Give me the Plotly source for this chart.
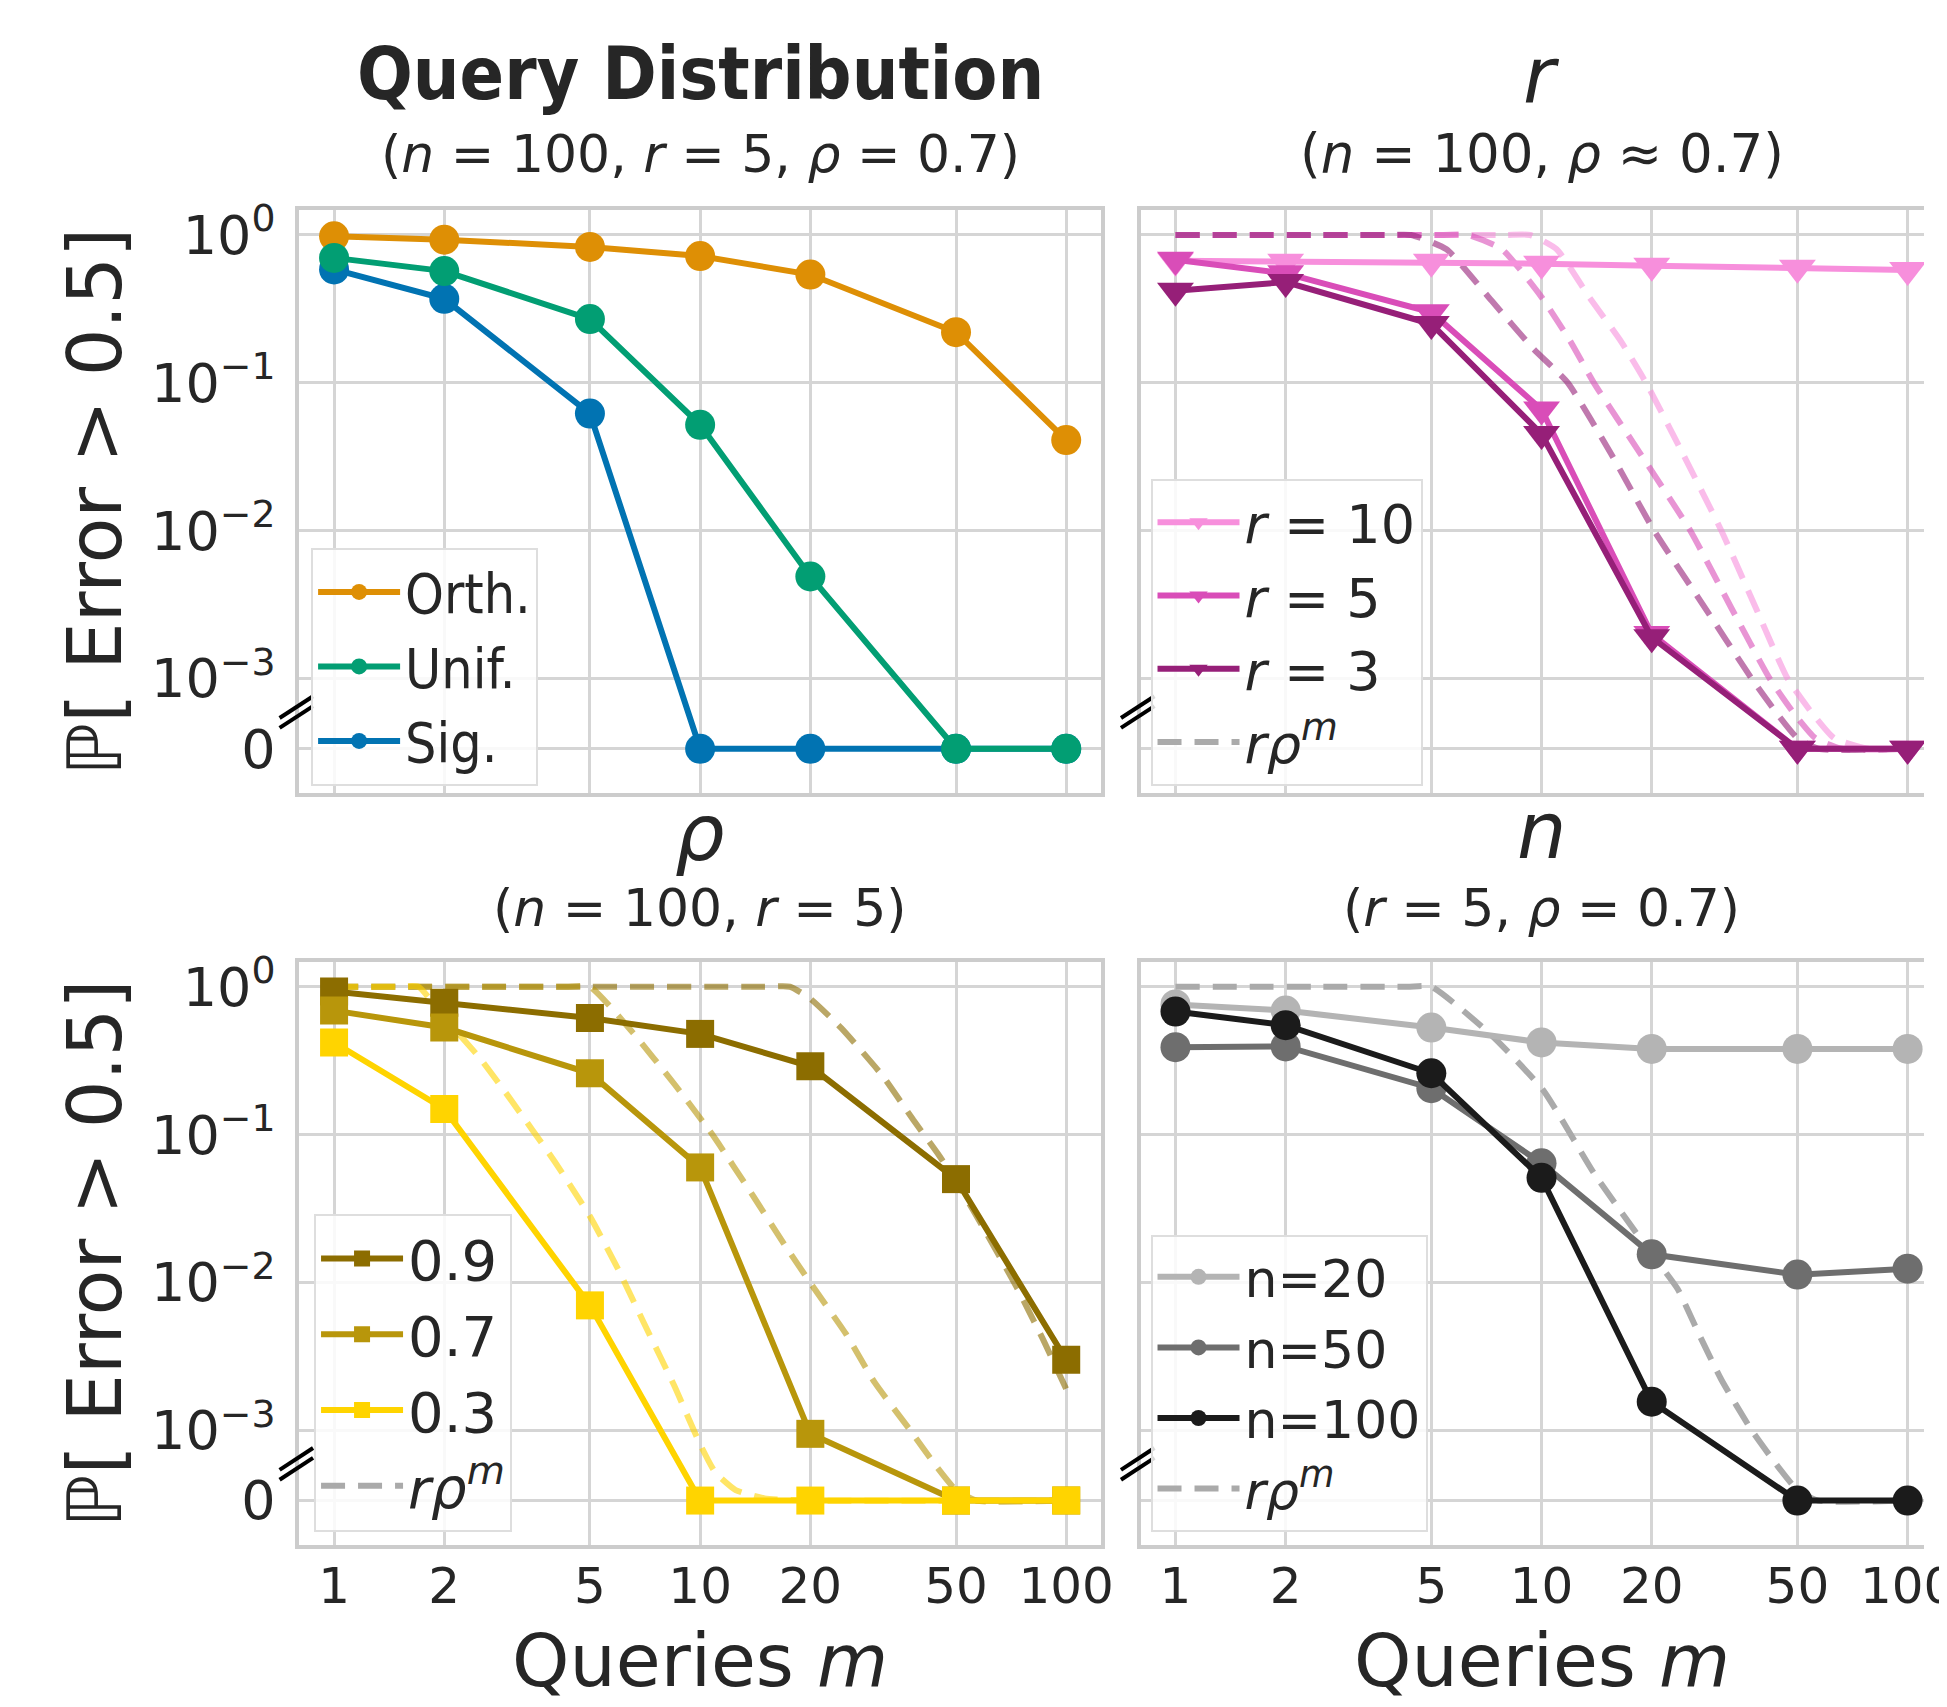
import plotly.graph_objects as go

W, H = 1947, 1707

# ---------------- data ----------------
M = [1, 2, 5, 10, 20, 50, 100]
X_TICKS = [1, 2, 5, 10, 20, 50, 100]
X_TICK_TEXT = ["1", "2", "5", "10", "20", "50", "100"]

# Query distribution panel
ORTH = [0.98, 0.93, 0.83, 0.72, 0.54, 0.22, 0.041]
UNIF = [0.70, 0.57, 0.27, 0.052, 0.0049, 0, 0]
SIG = [0.585, 0.37, 0.062, 0, 0, 0, 0]

# r panel
R10 = [0.67, 0.66, 0.66, 0.64, 0.62, 0.60, 0.58]
R5 = [0.68, 0.55, 0.30, 0.066, 0.0020, 0, 0]
R3 = [0.42, 0.48, 0.25, 0.045, 0.0019, 0, 0]

R3_BOUND_M = [1, 2.5, 3.8, 4.4, 5.5, 7.3, 9.5, 11.8, 15.5, 20.3, 27.5, 37.5, 44, 50, 57, 100]
R3_BOUND = [1, 1, 1, 1, 0.80, 0.36, 0.17, 0.10, 0.033, 0.010, 0.0032, 0.0010, 0.0005, 0.00015, 0, 0]
R5_BOUND_M = [1, 3, 5.4, 6.3, 7.8, 10, 12, 13.9, 18.5, 25.5, 33, 42, 49, 56, 66, 100]
R5_BOUND = [1, 1, 1, 1, 0.80, 0.38, 0.19, 0.10, 0.034, 0.010, 0.0030, 0.0010, 0.0005, 0.00015, 0, 0]
R10_BOUND_M = [1, 4, 8.0, 9.3, 11, 13.5, 16.5, 19.3, 24.5, 31, 38.5, 47, 55, 63, 78, 100]
R10_BOUND = [1, 1, 1, 1, 0.80, 0.38, 0.19, 0.10, 0.032, 0.010, 0.0030, 0.0010, 0.0005, 0.00015, 0, 0]

# rho panel
P09 = [0.93, 0.78, 0.615, 0.48, 0.29, 0.050, 0.0030]
P07 = [0.69, 0.53, 0.26, 0.060, 0.00095, 0, 0]
P03 = [0.42, 0.149, 0.0070, 0, 0, 0, 0]

P09_BOUND_M = [1, 5, 15, 17.6, 20, 24.3, 31.5, 38.2, 45, 51.2, 60.2, 73.2, 86.1, 100]
P09_BOUND = [1, 1, 1, 1, 0.83, 0.525, 0.25, 0.126, 0.072, 0.044, 0.022, 0.0093, 0.0042, 0.0019]
P07_BOUND_M = [1, 2.5, 4.3, 5.0, 6.5, 8.5, 10.8, 14, 17, 20.5, 25, 30, 37.5, 44, 50, 57, 100]
P07_BOUND = [1, 1, 1, 1, 0.50, 0.22, 0.10, 0.038, 0.018, 0.0091, 0.0045, 0.0021, 0.0010, 0.0005, 0.00015, 0, 0]
P03_BOUND_M = [1, 1.5, 1.7, 2, 2.5, 3, 4, 5, 6, 7, 8.5, 10, 11, 12.5, 15, 20, 100]
P03_BOUND = [1, 1, 1, 0.62, 0.33, 0.18, 0.066, 0.028, 0.012, 0.0054, 0.0020, 0.0008, 0.0004, 0.00015, 0.00003, 0, 0]

# n panel
N20 = [0.76, 0.69, 0.53, 0.42, 0.38, 0.38, 0.38]
N50 = [0.39, 0.395, 0.206, 0.064, 0.0155, 0.0113, 0.0124]
N100 = [0.68, 0.55, 0.26, 0.051, 0.00156, 0, 0]

N_BOUND_M = [1, 2.5, 4.3, 5.0, 7.3, 10.1, 13.9, 19.2, 23.5, 27, 31, 37.5, 44, 50, 57, 100]
N_BOUND = [1, 1, 1, 1, 0.47, 0.20, 0.055, 0.0178, 0.0091, 0.0044, 0.0022, 0.0010, 0.0005, 0.00015, 0, 0]

# ---------------- styling ----------------
TXT = "#262626"
GRID = "#d5d5d5"
FRAME = "#cccccc"
FONT = "DejaVu Sans"
COND = "DejaVu Sans Condensed, Liberation Sans Narrow, DejaVu Sans"

ORTH_C, UNIF_C, SIG_C = "#de8f05", "#029e73", "#0173b2"
R10_C, R5_C, R3_C = "#f78fdc", "#d94db8", "#961f78"
P09_C, P07_C, P03_C = "#8c6d00", "#b8960b", "#ffd400"
N20_C, N50_C, N100_C = "#b4b4b4", "#6e6e6e", "#1b1b1b"
BOUND_GRAY = "#aaaaaa"


def rgba(hexc, a):
    h = hexc.lstrip("#")
    r, g, b = int(h[0:2], 16), int(h[2:4], 16), int(h[4:6], 16)
    return f"rgba({r},{g},{b},{a})"


# broken log axis: values below T are placed linearly between T and the "0" line
T = 1e-3
LIN_DEC = 0.475


def sym(vals):
    out = []
    for v in vals:
        if v >= T:
            out.append(v)
        else:
            out.append(T * 10 ** (-LIN_DEC * (1 - v / T)))
    return out


ZERO_POS = sym([0])[0]

# layout geometry (screen pixels)
OFF_X, OFF_Y = 2, 8
PX_DEC = 372.0
LEFT_X0, RIGHT_X0, PANEL_W = 298, 1153, 815
TOP_Y0, TOP_Y1 = 198.0, 785.5
BOT_Y0, BOT_Y1 = 956.0, 1543.5
Y_RANGE = [-3.775, 0.166]
X_MIN = -0.095


def fx(p):
    return (p - OFF_X) / W


def fy(p):
    return 1 - (p - OFF_Y) / H


fig = go.Figure()

LW = 6
DASH = "24px,13px"


def solid(x, y, color, name, symbol, ax, legend, rank, ms):
    fig.add_trace(go.Scatter(
        x=x, y=sym(y), mode="lines+markers", name=name,
        line=dict(color=color, width=LW),
        marker=dict(color=color, size=ms, symbol=symbol, line=dict(width=0)),
        xaxis="x" + ax, yaxis="y" + ax, legend=legend, legendrank=rank,
        showlegend=True))


def bound(x, y, color, ax):
    fig.add_trace(go.Scatter(
        x=x, y=sym(y), mode="lines", showlegend=False,
        line=dict(color=color, width=LW, dash=DASH, shape="spline", smoothing=0.5),
        xaxis="x" + ax, yaxis="y" + ax, hoverinfo="skip"))


def bound_legend(ax, legend):
    fig.add_trace(go.Scatter(
        x=[None], y=[None], mode="lines", name="<i>rρ</i><sup><i>m</i></sup>",
        line=dict(color=BOUND_GRAY, width=LW, dash=DASH),
        xaxis="x" + ax, yaxis="y" + ax, legend=legend, legendrank=10, showlegend=True))


CIRC, SQ, TRI = 30, 28, 32

# panel 1: query distribution
solid(M, ORTH, ORTH_C, "Orth.", "circle", "", "legend", 1, CIRC)
solid(M, SIG, SIG_C, "Sig.", "circle", "", "legend", 3, CIRC)
solid(M, UNIF, UNIF_C, "Unif.", "circle", "", "legend", 2, CIRC)

# panel 2: r
bound(R10_BOUND_M, R10_BOUND, rgba(R10_C, 0.6), "2")
bound(R5_BOUND_M, R5_BOUND, rgba(R5_C, 0.6), "2")
bound(R3_BOUND_M, R3_BOUND, rgba(R3_C, 0.6), "2")
solid(M, R10, R10_C, "<i>r</i> = 10", "triangle-down", "2", "legend2", 1, TRI)
solid(M, R5, R5_C, "<i>r</i> = 5", "triangle-down", "2", "legend2", 2, TRI)
solid(M, R3, R3_C, "<i>r</i> = 3", "triangle-down", "2", "legend2", 3, TRI)
bound_legend("2", "legend2")

# panel 3: rho
bound(P09_BOUND_M, P09_BOUND, rgba(P09_C, 0.6), "3")
bound(P07_BOUND_M, P07_BOUND, rgba(P07_C, 0.6), "3")
bound(P03_BOUND_M, P03_BOUND, rgba(P03_C, 0.6), "3")
solid(M, P09, P09_C, "0.9", "square", "3", "legend3", 1, SQ)
solid(M, P07, P07_C, "0.7", "square", "3", "legend3", 2, SQ)
solid(M, P03, P03_C, "0.3", "square", "3", "legend3", 3, SQ)
bound_legend("3", "legend3")

# panel 4: n
bound(N_BOUND_M, N_BOUND, BOUND_GRAY, "4")
solid(M, N20, N20_C, "n=20", "circle", "4", "legend4", 1, CIRC)
solid(M, N50, N50_C, "n=50", "circle", "4", "legend4", 2, CIRC)
solid(M, N100, N100_C, "n=100", "circle", "4", "legend4", 3, CIRC)
bound_legend("4", "legend4")


def xaxis(x0, y_anchor, labels):
    d0 = fx(x0)
    d1 = min(1.0, fx(x0 + PANEL_W))
    width_px = (d1 - d0) * W
    return dict(
        domain=[d0, d1],
        type="log",
        range=[X_MIN, X_MIN + width_px / PX_DEC],
        tickvals=X_TICKS, ticktext=X_TICK_TEXT,
        showticklabels=labels, ticks="", ticklabelstandoff=-6,
        ticklabeloverflow="allow",
        tickfont=dict(family=FONT, size=50, color=TXT),
        showgrid=True, gridcolor=GRID, gridwidth=2.5,
        showline=True, linecolor=FRAME, linewidth=4, mirror=True,
        zeroline=False, anchor=y_anchor, fixedrange=True)


def yaxis(y0, y1, x_anchor, labels, mirror):
    return dict(
        domain=[fy(y1), fy(y0)],
        type="log", range=Y_RANGE,
        tickvals=[1, 0.1, 0.01, 0.001, ZERO_POS],
        ticktext=["10<sup>0</sup>", "10<sup>−1</sup>", "10<sup>−2</sup>", "10<sup>−3</sup>", "0"],
        showticklabels=labels, ticks="", ticklabelstandoff=9,
        tickfont=dict(family=FONT, size=54, color=TXT),
        showgrid=True, gridcolor=GRID, gridwidth=2.5,
        showline=True, linecolor=FRAME, linewidth=4, mirror=mirror,
        zeroline=False, anchor=x_anchor, fixedrange=True)


def legend(x_px, y_px_bottom, size, family=FONT):
    return dict(
        x=fx(x_px), y=fy(y_px_bottom), xanchor="left", yanchor="bottom",
        bgcolor="rgba(255,255,255,0.85)", bordercolor="#dedede", borderwidth=2,
        font=dict(family=family, size=size, color=TXT),
        traceorder="normal", itemsizing="trace", tracegroupgap=0, itemwidth=82)


annotations = []


def text(x_px, y_px, s, size, family=FONT, angle=0):
    annotations.append(dict(
        x=fx(x_px), y=fy(y_px), xref="paper", yref="paper", text=s,
        showarrow=False, xanchor="center", yanchor="middle", textangle=angle,
        font=dict(family=family, size=size, color=TXT)))


LC = LEFT_X0 + PANEL_W / 2
RC = RIGHT_X0 + PANEL_W / 2

text(LC, 60, "<b>Query Distribution</b>", 73, COND)
text(LC, 141, "(<i>n</i> = 100, <i>r</i> = 5, <i>ρ</i> = 0.7)", 52)
text(RC, 62, "<i>r</i>", 78)
text(RC, 141, "(<i>n</i> = 100, <i>ρ</i> ≈ 0.7)", 53)
text(LC, 826, "<i>ρ</i>", 78)
text(LC, 901, "(<i>n</i> = 100, <i>r</i> = 5)", 52)
text(RC, 824, "<i>n</i>", 78)
text(RC, 901, "(<i>r</i> = 5, <i>ρ</i> = 0.7)", 52)
text(LC, 1660, "Queries <i>m</i>", 73)
text(RC, 1660, "Queries <i>m</i>", 73)
text(90, (TOP_Y0 + TOP_Y1) / 2, "ℙ[ Error &gt; 0.5]", 75, angle=-90)
text(90, (BOT_Y0 + BOT_Y1) / 2, "ℙ[ Error &gt; 0.5]", 75, angle=-90)

# axis-break marks
shapes = []
DEC_PX = (TOP_Y1 - TOP_Y0) / (Y_RANGE[1] - Y_RANGE[0])
BREAK_LOG = -3.2
for sx in (LEFT_X0, RIGHT_X0):
    for y0 in (TOP_Y0, BOT_Y0):
        sy = y0 + (Y_RANGE[1] - BREAK_LOG) * DEC_PX
        for off in (0, 10):
            shapes.append(dict(
                type="line", xref="paper", yref="paper",
                x0=fx(sx - 20), y0=fy(sy + 10 + off),
                x1=fx(sx + 14), y1=fy(sy - 12 + off),
                line=dict(color="black", width=4)))

fig.update_layout(
    width=W, height=H, autosize=False,
    margin=dict(l=0, r=0, t=0, b=0),
    paper_bgcolor="white", plot_bgcolor="white",
    xaxis=xaxis(LEFT_X0, "y", False),
    yaxis=yaxis(TOP_Y0, TOP_Y1, "x", True, True),
    xaxis2=xaxis(RIGHT_X0, "y2", False),
    yaxis2=yaxis(TOP_Y0, TOP_Y1, "x2", False, False),
    xaxis3=xaxis(LEFT_X0, "y3", True),
    yaxis3=yaxis(BOT_Y0, BOT_Y1, "x3", True, True),
    xaxis4=xaxis(RIGHT_X0, "y4", True),
    yaxis4=yaxis(BOT_Y0, BOT_Y1, "x4", False, False),
    legend=legend(310, 778, 55, COND),
    legend2=legend(1163, 778, 54),
    legend3=legend(313, 1530, 56),
    legend4=legend(1163, 1530, 52),
    annotations=annotations,
    shapes=shapes,
    showlegend=True,
    hovermode=False,
)

fig.write_html("out.html")
